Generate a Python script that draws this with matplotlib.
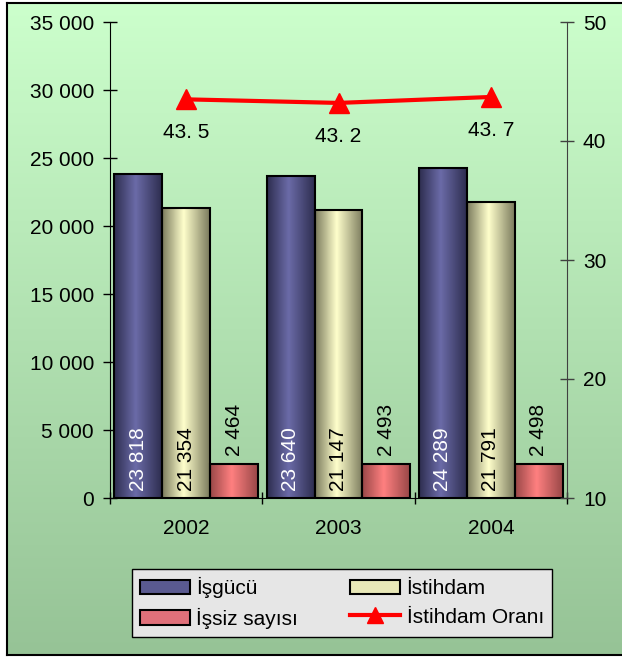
import numpy as np
import matplotlib.pyplot as plt
from matplotlib.colors import LinearSegmentedColormap
from matplotlib.patches import Patch
from matplotlib.lines import Line2D

# values
years = ['2002', '2003', '2004']
isgucu = [23818, 23640, 24289]
istihdam = [21354, 21147, 21791]
issiz = [2464, 2493, 2498]
oran = [43.5, 43.2, 43.7]
left_ticks = [0, 5000, 10000, 15000, 20000, 25000, 30000, 35000]
right_ticks = [10, 20, 30, 40, 50]

plt.rcParams['font.family'] = ['Liberation Sans', 'DejaVu Sans']
plt.rcParams['font.size'] = 15

W, H = 622, 658
fig = plt.figure(figsize=(W / 100, H / 100), dpi=100)


def fmt(v):
    return f'{v:,}'.replace(',', ' ')


# green gradient background with a black border
bg = fig.add_axes([7 / W, 3 / H, 1 - 7 / W + 0.01, (655 - 3) / H])
bg_cmap = LinearSegmentedColormap.from_list('bg', ['#CCFFCC', '#96C396'])
bg.imshow(np.linspace(0, 1, 256).reshape(-1, 1), cmap=bg_cmap, aspect='auto',
          extent=(0, 1, 0, 1), origin='upper')
bg.set_xticks([])
bg.set_yticks([])
for s in ['left', 'top', 'bottom']:
    bg.spines[s].set_linewidth(1.5)
bg.spines['right'].set_visible(False)

ax = fig.add_axes([110 / W, 1 - 498 / H, (567 - 110) / W, (498 - 22) / H])
ax.patch.set_visible(False)


def grad_bar(x, h, w, dark, light):
    cmap = LinearSegmentedColormap.from_list('g', [(0, dark), (0.45, light), (1, dark)])
    ax.imshow(np.linspace(0, 1, 64).reshape(1, -1), cmap=cmap, aspect='auto',
              extent=(x - w / 2, x + w / 2, 0, h), zorder=2, interpolation='bilinear')
    ax.bar(x, h, w, facecolor='none', edgecolor='black', linewidth=1.5, zorder=3)


w = 0.315
x = np.arange(len(years))
series = [
    (isgucu, -w, '#2E2E50', '#6B6BA8', 'white'),
    (istihdam, 0, '#7C7C5E', '#FFFFCC', 'black'),
    (issiz, w, '#9A4848', '#FF8080', None),
]
for vals, off, dark, light, tcol in series:
    for xi, v in zip(x, vals):
        grad_bar(xi + off, v, w, dark, light)
        if tcol:
            ax.annotate(fmt(v), (xi + off, 0), xytext=(0, 5), textcoords='offset points',
                        ha='center', va='bottom', rotation=90, color=tcol, zorder=4)
        else:
            ax.annotate(fmt(v), (xi + off, v), xytext=(0, 6), textcoords='offset points',
                        ha='center', va='bottom', rotation=90, color='black', zorder=4)

ax.set_xlim(-0.5, 2.5)
ax.set_ylim(0, 35000)
ax.set_yticks(left_ticks, [fmt(t) for t in left_ticks])
ax.set_xticks(x, years)
ax.set_xticks([-0.5, 0.5, 1.5, 2.5], minor=True)
ax.tick_params(axis='x', which='major', length=0, pad=15)
ax.tick_params(axis='x', which='minor', length=8.5, direction='inout', width=1)
ax.tick_params(axis='y', length=10, direction='inout', width=1, pad=6.5)
ax.spines['top'].set_visible(False)
ax.spines['right'].set_visible(False)

ax2 = ax.twinx()
ax2.set_ylim(10, 50)
ax2.set_yticks(right_ticks)
ax2.tick_params(axis='y', length=10, direction='inout', width=1, pad=6.5, color='#404040')
for s in ['top', 'left', 'bottom']:
    ax2.spines[s].set_visible(False)
ax2.spines['right'].set_color('#404040')
ax2.plot(x, oran, color='red', lw=3, marker='^', markersize=15, zorder=5)
for xi, v in zip(x, oran):
    ax2.annotate(f'{v:.1f}'.replace('.', '. '), (xi, v), xytext=(0, -24),
                 textcoords='offset points', ha='center', va='center')

handles = [
    Patch(facecolor='#5A5A90', edgecolor='black', linewidth=1.5),
    Patch(facecolor='#E0707A', edgecolor='black', linewidth=1.5),
    Patch(facecolor='#E8E8B8', edgecolor='black', linewidth=1.5),
    Line2D([], [], color='red', lw=3, marker='^', markersize=12),
]
labels = ['İşgücü', 'İşsiz sayısı', 'İstihdam', 'İstihdam Oranı']
leg = fig.legend(handles, labels, loc='center', bbox_to_anchor=(342 / W, 1 - 603 / H),
                 ncol=2, frameon=True, fancybox=False, edgecolor='black', facecolor='#E6E6E6',
                 framealpha=1, handlelength=2.4, handleheight=0.7, handletextpad=0.3,
                 columnspacing=2.5, labelspacing=0.45, borderpad=0.4, borderaxespad=0)
leg.get_frame().set_linewidth(1)

fig.savefig('out.png', dpi=100)
